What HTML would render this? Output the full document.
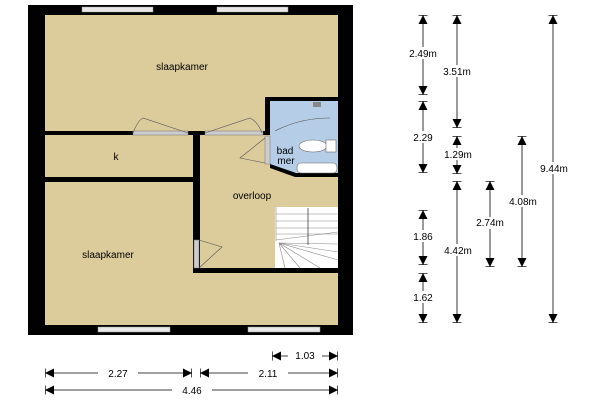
<!DOCTYPE html>
<html><head><style>body{margin:0;background:#fff}</style></head><body>
<svg width="600" height="400" xmlns="http://www.w3.org/2000/svg" font-family="Liberation Sans, sans-serif">
<defs>
<marker id="a" viewBox="0 0 10 10" refX="10" refY="5" markerWidth="9" markerHeight="9" markerUnits="userSpaceOnUse" orient="auto-start-reverse"><path d="M0,0L10,5L0,10z" fill="#000"/><path d="M10,0V10" stroke="#000" stroke-width="1.5"/></marker>
</defs>
<rect x="28" y="5" width="325" height="330" fill="#000"/>
<rect x="45" y="15" width="293" height="310" fill="#dccb9b"/>
<g fill="#e8e8e8" stroke="#999" stroke-width="0.5">
<rect x="82" y="7" width="71" height="5"/><rect x="217" y="7" width="71" height="5"/>
<rect x="98" y="327" width="72" height="5"/><rect x="248" y="327" width="72" height="5"/>
</g>
<rect x="265" y="97" width="73" height="38" fill="#000"/>
<rect x="270" y="101" width="68" height="34" fill="#b5cde6"/>
<path d="M265,135H338V177H295L270,168V135Z" fill="#000"/>
<path d="M270,135H338V173H296L270,164Z" fill="#b5cde6"/>
<rect x="45" y="131" width="222" height="4" fill="#000"/>
<rect x="45" y="177" width="150" height="5" fill="#000"/>
<rect x="193" y="131" width="7" height="142" fill="#000"/>
<rect x="193" y="268" width="145" height="5" fill="#000"/>
<g fill="#ccc" stroke="#777" stroke-width="0.5">
<rect x="133" y="131" width="55" height="4"/><rect x="205" y="131" width="58" height="4"/>
<rect x="265" y="136" width="5" height="28"/><rect x="194" y="240" width="5" height="28"/>
</g>
<g fill="none" stroke="#555" stroke-width="0.6">
<path d="M133,133Q138,120 143,118L188,133"/><path d="M205,133L250,118Q258,122 262,133"/>
<path d="M265,138L240,158L265,163"/><path d="M199,240L222,247L199,268"/>
<path d="M275,131Q300,118 330,118"/>
</g>
<ellipse cx="313" cy="146" rx="14" ry="6" fill="#fff" stroke="#666" stroke-width="0.6"/>
<rect x="326" y="140" width="10" height="12" fill="#fff" stroke="#666" stroke-width="0.6"/>
<rect x="297" y="163" width="40" height="10" rx="4" fill="#fff" stroke="#666" stroke-width="0.6"/>
<rect x="313" y="102" width="8" height="5" fill="#888"/>
<rect x="275" y="207" width="63" height="61" fill="#fff"/>
<g stroke="#888" stroke-width="0.6">
<line x1="276" y1="207" x2="276" y2="241"/>
<line x1="276" y1="214" x2="338" y2="214"/><line x1="276" y1="221" x2="338" y2="221"/>
<line x1="276" y1="228" x2="338" y2="228"/><line x1="276" y1="234" x2="338" y2="234"/>
<line x1="276" y1="240" x2="338" y2="232"/>
<line x1="279" y1="243" x2="338" y2="244"/><line x1="279" y1="243" x2="338" y2="252"/>
<line x1="279" y1="243" x2="338" y2="260"/><line x1="279" y1="243" x2="320" y2="268"/>
<line x1="279" y1="243" x2="300" y2="268"/><line x1="279" y1="243" x2="285" y2="268"/>
<line x1="308" y1="208" x2="308" y2="245" stroke="#000"/>
</g>
<g font-size="10" fill="#000" text-anchor="middle">
<text x="182" y="70">slaapkamer</text>
<text x="116" y="160">k</text>
<text x="252" y="199">overloop</text>
<text x="108" y="258">slaapkamer</text>
<text x="285" y="154">bad</text>
<text x="286" y="164">mer</text>
</g>
<g stroke="#000" stroke-width="0.8" marker-start="url(#a)" marker-end="url(#a)">
<line x1="423" y1="15" x2="423" y2="95"/><line x1="423" y1="101" x2="423" y2="173"/>
<line x1="423" y1="210" x2="423" y2="265"/><line x1="423" y1="273" x2="423" y2="323"/>
<line x1="457" y1="15" x2="457" y2="128"/><line x1="457" y1="136" x2="457" y2="174"/>
<line x1="457" y1="181" x2="457" y2="323"/>
<line x1="490" y1="181" x2="490" y2="267"/><line x1="522" y1="136" x2="522" y2="267"/>
<line x1="553" y1="15" x2="553" y2="323"/>
<line x1="272" y1="356" x2="338" y2="356"/>
<line x1="45" y1="373" x2="192" y2="373"/><line x1="200" y1="373" x2="338" y2="373"/>
<line x1="45" y1="390" x2="338" y2="390"/>
</g>
<g font-size="10" fill="#000" text-anchor="middle">
<g fill="#fff"><rect x="405" y="47" width="36" height="12"/><rect x="438" y="65" width="38" height="12"/><rect x="405" y="131" width="36" height="12"/><rect x="438" y="148" width="40" height="12"/><rect x="529" y="162" width="50" height="12"/><rect x="498" y="195" width="50" height="12"/><rect x="468" y="217" width="44" height="12"/><rect x="405" y="230" width="36" height="12"/><rect x="438" y="244" width="40" height="12"/><rect x="405" y="291" width="36" height="12"/>
<rect x="288" y="351" width="34" height="10"/><rect x="98" y="368" width="40" height="10"/><rect x="248" y="368" width="40" height="10"/><rect x="172" y="385" width="40" height="10"/></g>
<text x="423" y="57">2.49m</text><text x="457" y="75">3.51m</text>
<text x="423" y="141">2.29</text><text x="458" y="158">1.29m</text>
<text x="554" y="172">9.44m</text><text x="523" y="205">4.08m</text>
<text x="490" y="226">2.74m</text><text x="423" y="240">1.86</text>
<text x="458" y="254">4.42m</text><text x="423" y="301">1.62</text>
<text x="305" y="359">1.03</text><text x="118" y="377">2.27</text>
<text x="268" y="377">2.11</text><text x="192" y="394">4.46</text>
</g>
</svg>
</body></html>
